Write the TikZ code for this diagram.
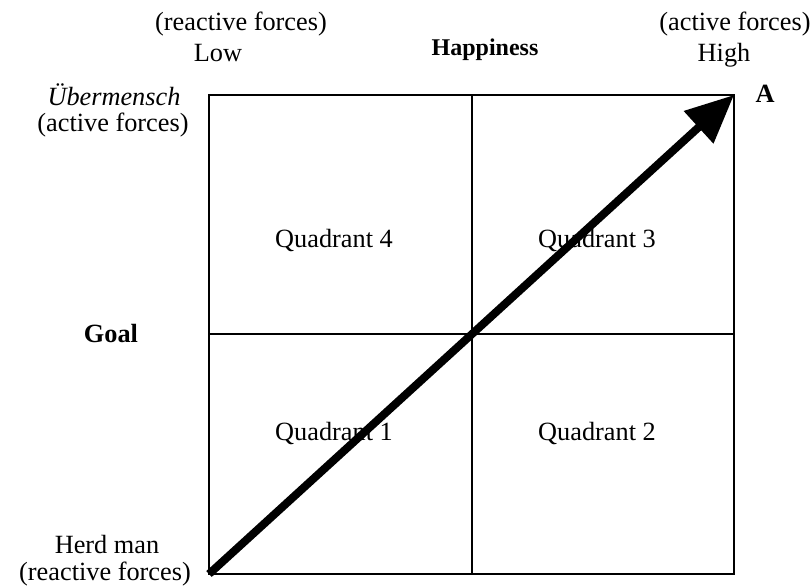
\documentclass[tikz,border=0pt]{standalone}
\usepackage{fontspec}
\setmainfont{Liberation Serif}
\usetikzlibrary{arrows.meta}
\newcommand\Txt{\fontsize{26.3}{28}\selectfont}

\begin{document}
\begin{tikzpicture}[x=1pt, y=-1pt,
    lbl/.style={font=\Txt, anchor=base, inner sep=0pt},
    grid/.style={line width=1.6pt}]
  \useasboundingbox (0,0) rectangle (812,588);
  % corners and mid points of the square
  \coordinate (sw) at (209,574);
  \coordinate (ne) at (734,95);
  \coordinate (n) at (472,95);
  \coordinate (s) at (472,574);
  \coordinate (w) at (209,334);
  \coordinate (e) at (734,334);

  \draw[grid] (sw) rectangle (ne);
  \draw[grid] (n) -- (s);
  \draw[grid] (w) -- (e);
  \draw[line width=8pt, -{Triangle[length=48pt, width=42pt]}] (sw) -- (ne);

  % top axis
  \node[lbl] (lowTag) at (241,31) {(reactive forces)};
  \node[lbl] (lowLbl) at (218,62) {Low};
  \node[lbl, font=\fontsize{24}{28}\selectfont\bfseries] (happy) at (485,56) {Happiness};
  \node[lbl] (highTag) at (735,31) {(active forces)};
  \node[lbl] (highLbl) at (724,62) {High};
  \node[lbl, font=\Txt\bfseries] (aLbl) at (765,103) {A};

  % left axis
  \node[lbl] (uber) at (114,106) {\itshape Übermensch};
  \node[lbl] (uberTag) at (113,132) {(active forces)};
  \node[lbl, font=\Txt\bfseries] (goal) at (111,343) {Goal};
  \node[lbl] (herd) at (107,553) {Herd man};
  \node[lbl] (herdTag) at (105,580) {(reactive forces)};

  % quadrants
  \node[lbl] (q4) at (334,248) {Quadrant 4};
  \node[lbl] (q3) at (597,248) {Quadrant 3};
  \node[lbl] (q1) at (334,440) {Quadrant 1};
  \node[lbl] (q2) at (597,440) {Quadrant 2};
\end{tikzpicture}
\end{document}
